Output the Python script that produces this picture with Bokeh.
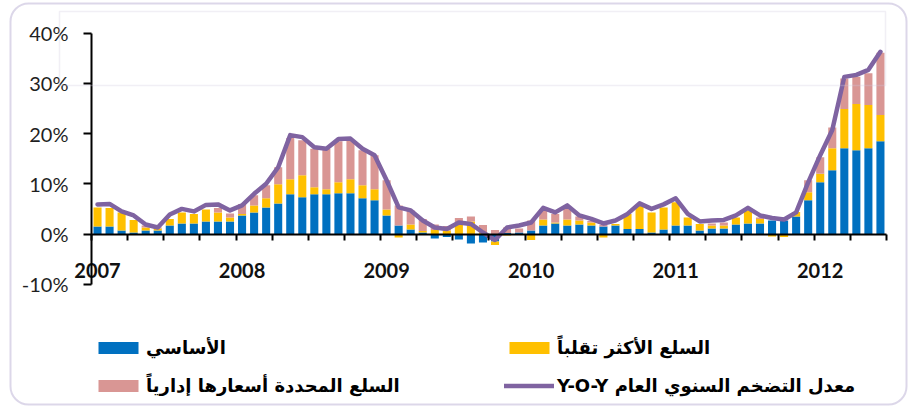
import numpy as np
from bokeh.plotting import figure
from bokeh.models import (Range1d, FixedTicker, BoxAnnotation,
                          Legend, LegendItem, ColumnDataSource)
from bokeh.embed import file_html
from bokeh.resources import INLINE

# ---------------- data (percent, monthly Jan 2007 - Jun 2012) ----------------
years = ["2007", "2008", "2009", "2010", "2011", "2012"]

core = [1.5, 1.5, 0.7, 0.3, 0.7, 0.7, 1.7, 2.1, 2.1, 2.5, 2.5, 2.5,
        3.7, 4.3, 5.3, 6.1, 7.9, 7.3, 7.9, 7.9, 8.1, 8.1, 7.1, 6.7,
        3.7, 1.7, 0.9, 0.3, -0.9, -0.6, -1.1, -1.9, -1.7, -1.5, 0.2, 0.3,
        0.7, 1.7, 2.1, 1.7, 1.9, 1.7, 1.5, 1.7, 1.0, 1.0, 0.3, 0.9,
        1.7, 1.7, 0.7, 1.1, 1.1, 1.9, 2.1, 2.1, 2.7, 2.7, 3.5, 6.7,
        10.3, 12.7, 17.1, 16.7, 17.1, 18.5]

volatile = [3.8, 3.7, 3.6, 2.5, 0.6, 0.4, 1.3, 2.2, 1.9, 2.4, 1.8, 0.8,
            0.3, 1.4, 1.8, 3.8, 3.0, 4.4, 1.4, 1.0, 2.2, 2.8, 2.6, 2.2,
            1.2, -0.7, 1.0, 0.3, 0.8, 0.7, 1.9, 2.5, 0.3, -0.7, -0.3, 0.0,
            -1.2, 1.2, 0.2, 1.2, 0.8, 0.6, -0.7, 0.3, 3.0, 4.7, 4.0, 4.4,
            4.6, 1.6, 1.3, 0.6, 0.6, 1.4, 2.6, 0.9, -0.5, -0.6, 0.9, 1.6,
            1.7, 4.4, 7.8, 9.2, 8.6, 5.2]

administered = [0.0, 0.0, 0.0, 0.0, 0.4, 0.2, 0.0, 0.0, 0.0, 0.0, 0.9, 0.8,
                2.0, 2.0, 2.6, 3.4, 8.2, 7.0, 7.7, 8.1, 8.2, 7.8, 7.0, 6.8,
                5.8, 4.0, 2.8, 2.4, 1.1, 0.9, 1.3, 1.0, 1.5, 0.8, 1.1, 0.8,
                2.0, 2.1, 1.7, 2.1, 0.8, 0.3, 0.3, 0.0, 0.0, 0.0, 0.0, 0.0,
                0.0, 0.0, 0.0, 0.4, 0.6, 0.0, 0.0, 0.3, 0.0, 0.3, 0.0, 2.4,
                3.3, 4.1, 6.1, 5.4, 6.3, 12.4]

yoy = [5.9, 6.0, 4.5, 3.7, 1.9, 1.3, 3.9, 5.0, 4.5, 5.8, 5.9, 4.7,
       5.7, 8.0, 10.0, 13.3, 19.7, 19.3, 17.3, 17.0, 18.9, 19.0, 17.0, 15.7,
       10.7, 5.3, 4.7, 2.7, 1.3, 1.0, 2.3, 2.0, 0.3, -1.2, 1.3, 1.7,
       2.3, 5.2, 4.3, 5.7, 3.7, 3.0, 2.1, 2.7, 4.0, 6.1, 5.0, 5.9,
       7.1, 4.0, 2.5, 2.7, 2.8, 3.7, 5.2, 3.7, 3.2, 2.9, 4.3, 10.3,
       15.7, 20.7, 31.3, 31.7, 32.7, 36.3]

y_ticks = [-10, 0, 10, 20, 30, 40]
y_tick_labels = ["-10%", "0%", "10%", "20%", "30%", "40%"]

label_core = "الأساسي"
label_volatile = "السلع الأكثر تقلباً"
label_admin = "السلع المحددة أسعارها إدارياً"
label_yoy = "Y-O-Y معدل التضخم السنوي العام"

# ---------------- layout constants (pixels) ----------------
W, H = 908, 414
AXIS_X = 91          # canvas x of month 0
PX_MONTH = 12.045
ZERO_Y = 233.5       # canvas y of 0%
PX_PCT = 5.02

n = len(core)
x = np.arange(n) + 0.5

# stacking with separate positive / negative stacks (as Excel does)
pos = np.zeros(n)
neg = np.zeros(n)
stacks = []
for s in (core, volatile, administered):
    s = np.asarray(s, dtype=float)
    bottom = np.where(s >= 0, pos, neg)
    top = bottom + s
    pos = np.where(s >= 0, top, pos)
    neg = np.where(s < 0, top, neg)
    stacks.append((bottom, top))

src = ColumnDataSource(dict(
    x=x,
    b0=stacks[0][0], t0=stacks[0][1],
    b1=stacks[1][0], t1=stacks[1][1],
    b2=stacks[2][0], t2=stacks[2][1],
    yoy=yoy,
))

x_range = Range1d(-AXIS_X / PX_MONTH, (W - AXIS_X) / PX_MONTH)
y_range = Range1d(-(H - ZERO_Y) / PX_PCT, ZERO_Y / PX_PCT)

p = figure(width=W, height=H, x_range=x_range, y_range=y_range,
           output_backend="svg", toolbar_location=None,
           min_border=0, min_border_left=0, min_border_right=0,
           min_border_top=0, min_border_bottom=0)
p.outline_line_color = None
p.background_fill_color = "white"
p.border_fill_color = "white"
p.xgrid.visible = False
p.ygrid.visible = False

BAR_W = 0.67
r_core = p.vbar(x="x", bottom="b0", top="t0", width=BAR_W, source=src,
                fill_color="#0070C0", line_color=None)
r_vol = p.vbar(x="x", bottom="b1", top="t1", width=BAR_W, source=src,
               fill_color="#FFC000", line_color=None)
r_adm = p.vbar(x="x", bottom="b2", top="t2", width=BAR_W, source=src,
               fill_color="#D99694", line_color=None)
r_line = p.line(x="x", y="yoy", source=src, line_color="#7F63A1",
                line_width=4.5, line_join="round", line_cap="round")

# y axis
ya = p.yaxis[0]
ya.fixed_location = 0
ya.bounds = (y_ticks[0], y_ticks[-1])
ya.ticker = FixedTicker(ticks=y_ticks)
ya.major_label_overrides = dict(zip(y_ticks, y_tick_labels))
ya.axis_line_width = 2
ya.axis_line_color = "black"
ya.major_tick_line_width = 2
ya.major_tick_line_color = "black"
ya.major_tick_out = 8
ya.major_tick_in = 0
ya.minor_tick_line_color = None
ya.major_label_standoff = 15
ya.major_label_text_font = "Lato"
ya.major_label_text_font_size = "20px"
ya.major_label_text_color = "#1f1f1f"

# x axis: year labels on the January category, quarterly tick marks
year_pos = [0.5 + 12 * k for k in range(len(years))]
xa = p.xaxis[0]
xa.fixed_location = 0
xa.bounds = (0, n)
xa.ticker = FixedTicker(ticks=year_pos, minor_ticks=list(range(0, n + 1, 3)))
xa.major_label_overrides = dict(zip(year_pos, years))
xa.axis_line_width = 2
xa.axis_line_color = "black"
xa.major_tick_line_color = None
xa.major_tick_out = 0
xa.major_tick_in = 0
xa.minor_tick_line_width = 2
xa.minor_tick_line_color = "black"
xa.minor_tick_out = 6
xa.minor_tick_in = 0
xa.major_label_standoff = 23
xa.major_label_text_font = "Lato"
xa.major_label_text_font_style = "bold"
xa.major_label_text_font_size = "20px"
xa.major_label_text_color = "#111111"

# legend
legend = Legend(items=[LegendItem(label=label_core, renderers=[r_core]),
                       LegendItem(label=label_volatile, renderers=[r_vol]),
                       LegendItem(label=label_admin, renderers=[r_adm]),
                       LegendItem(label=label_yoy, renderers=[r_line])],
                location=(93, 18), orientation="horizontal", ncols=2,
                glyph_width=50, glyph_height=15, label_standoff=3,
                label_width=342, label_height=22, spacing=16, padding=0,
                border_line_alpha=0, background_fill_alpha=0,
                label_text_font="DejaVu Sans", label_text_font_size="18px",
                label_text_font_style="bold", label_text_color="black")
p.add_layout(legend)

legend_box = BoxAnnotation(left=59, right=885, top=329, bottom=403,
                           left_units="screen", right_units="screen",
                           top_units="screen", bottom_units="screen",
                           fill_alpha=0, line_color="#CFCBDD", line_width=1.5)
p.add_layout(legend_box)

outer = BoxAnnotation(left=10, right=906, top=10, bottom=411,
                      left_units="screen", right_units="screen",
                      top_units="screen", bottom_units="screen",
                      fill_alpha=0, line_color="#8B79B6", line_width=2,
                      border_radius=18)
p.add_layout(outer)

open("out.html", "w").write(file_html(p, INLINE))
